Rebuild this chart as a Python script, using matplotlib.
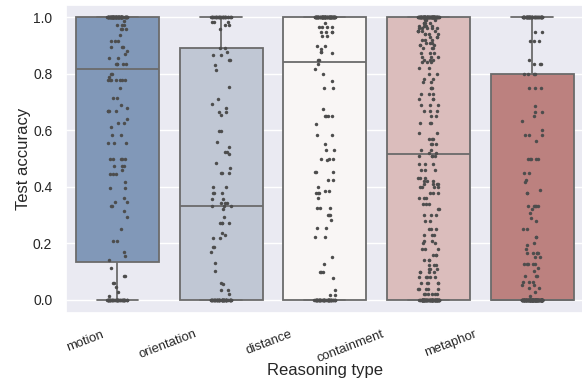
import numpy as np
import pandas as pd
import matplotlib
matplotlib.use("Agg")
import matplotlib.pyplot as plt
import matplotlib.transforms as mtransforms
import seaborn as sns

categories = ["motion", "orientation", "distance", "containment", "metaphor"]

motion_vals = [1.0, 0.986, 0.972, 0.958, 0.936, 0.915, 0.894, 0.88, 0.87, 0.855, 0.833,
               0.8, 0.788, 0.778, 0.75, 0.714, 0.69, 0.68, 0.667, 0.64, 0.625, 0.61, 0.583,
               0.556, 0.5, 0.473, 0.459, 0.445, 0.418, 0.395, 0.36, 0.347, 0.333, 0.314,
               0.293, 0.25, 0.21, 0.17, 0.155, 0.141, 0.113, 0.085, 0.06, 0.046, 0.03, 0.015, 0.0]
motion_counts = [89, 1, 3, 3, 1, 3, 3, 1, 1, 2, 5,
                 2, 1, 7, 1, 2, 1, 1, 4, 1, 2, 1, 2,
                 3, 5, 3, 1, 3, 1, 2, 1, 2, 2, 1,
                 1, 1, 2, 1, 1, 1, 1, 2, 2, 1, 1, 1, 48]

orientation_vals = [1.0, 0.983, 0.972, 0.958, 0.89, 0.876, 0.866, 0.848, 0.83, 0.813, 0.752,
                    0.71, 0.693, 0.68, 0.665, 0.654, 0.598, 0.558, 0.54, 0.524, 0.516, 0.485,
                    0.466, 0.448, 0.4, 0.378, 0.357, 0.343, 0.333, 0.32, 0.294, 0.272, 0.238,
                    0.23, 0.219, 0.188, 0.17, 0.13, 0.104, 0.06, 0.057, 0.035, 0.021, 0.0]
orientation_counts = [32, 3, 2, 1, 2, 1, 2, 2, 1, 1, 1,
                      1, 1, 1, 2, 1, 2, 1, 1, 2, 1, 1,
                      1, 3, 2, 3, 2, 3, 3, 1, 1, 4, 1,
                      1, 2, 2, 1, 1, 1, 1, 1, 2, 1, 56]

distance_vals = [1.0, 0.98, 0.966, 0.948, 0.933, 0.899, 0.886, 0.877, 0.872, 0.848, 0.833,
                 0.816, 0.799, 0.775, 0.751, 0.677, 0.65, 0.624, 0.583, 0.55, 0.532, 0.5,
                 0.495, 0.451, 0.426, 0.4, 0.386, 0.377, 0.359, 0.324, 0.3, 0.283, 0.253,
                 0.222, 0.151, 0.126, 0.1, 0.079, 0.035, 0.018, 0.0]
distance_counts = [89, 1, 4, 4, 2, 2, 1, 2, 1, 2, 1,
                   1, 1, 1, 2, 1, 4, 1, 2, 1, 2, 3,
                   1, 3, 2, 1, 2, 3, 1, 3, 3, 1, 2,
                   2, 1, 1, 3, 1, 1, 2, 55]

containment_vals = [1.0, 0.99, 0.98, 0.97, 0.96, 0.95, 0.94, 0.93, 0.92, 0.91, 0.90, 0.89,
                    0.875, 0.86, 0.85, 0.84, 0.82, 0.80, 0.78, 0.77, 0.75, 0.73, 0.71, 0.69,
                    0.667, 0.65, 0.625, 0.59, 0.57, 0.55, 0.53, 0.52,
                    0.51, 0.48, 0.46, 0.43, 0.42, 0.41, 0.40, 0.38, 0.36, 0.34, 0.32, 0.30,
                    0.28, 0.25, 0.23, 0.21, 0.20, 0.18, 0.16, 0.14, 0.125, 0.11, 0.10, 0.08,
                    0.06, 0.04, 0.02, 0.0]
containment_counts = [94, 3, 4, 4, 5, 5, 4, 3, 3, 3, 3, 3,
                      3, 3, 3, 3, 2, 2, 2, 2, 3, 3, 3, 3,
                      3, 2, 3, 2, 3, 3, 2, 2,
                      4, 3, 3, 3, 3, 4, 4, 3, 3, 3, 2, 3,
                      2, 3, 3, 2, 2, 3, 3, 3, 3, 3, 4, 5,
                      5, 5, 6, 96]

metaphor_vals = [1.0, 0.948, 0.915, 0.848, 0.833, 0.8, 0.75, 0.686, 0.665, 0.65, 0.634, 0.6,
                 0.583, 0.562, 0.5, 0.448, 0.424, 0.416, 0.389, 0.379, 0.333, 0.32, 0.306,
                 0.291, 0.279, 0.251, 0.224, 0.2, 0.194, 0.18, 0.167, 0.153, 0.126, 0.112,
                 0.104, 0.085, 0.065, 0.053, 0.041, 0.029, 0.015, 0.0]
metaphor_counts = [59, 2, 3, 1, 3, 4, 3, 1, 2, 1, 1, 1,
                   3, 1, 5, 2, 1, 1, 1, 2, 5, 1, 1,
                   1, 1, 2, 2, 1, 1, 1, 5, 2, 5, 1,
                   1, 3, 3, 2, 2, 1, 1, 140]

series = {
    "motion": (motion_vals, motion_counts),
    "orientation": (orientation_vals, orientation_counts),
    "distance": (distance_vals, distance_counts),
    "containment": (containment_vals, containment_counts),
    "metaphor": (metaphor_vals, metaphor_counts),
}

rows = []
for cat in categories:
    vals, cnts = series[cat]
    for v, c in zip(vals, cnts):
        rows.extend([(cat, v)] * c)
df = pd.DataFrame(rows, columns=["Reasoning type", "Test accuracy"])

sns.set_theme(style="darkgrid")
plt.rcParams["font.family"] = ["Liberation Sans", "DejaVu Sans"]

np.random.seed(3)
fig = plt.figure(figsize=(5.82, 3.85), dpi=100)
ax = fig.add_axes([65.5 / 582, 1 - 313 / 385, 518.5 / 582, 308 / 385])

sns.boxplot(data=df, x="Reasoning type", y="Test accuracy", order=categories,
            hue="Reasoning type", hue_order=categories, palette="vlag", legend=False,
            width=0.8, whis=[0, 100], linecolor="0.42", linewidth=1.3, ax=ax)
sns.stripplot(data=df, x="Reasoning type", y="Test accuracy", order=categories,
              size=2.5, color=".3", ax=ax)

ax.set_xlim(-0.5, 4.5)
ax.set_ylim(-0.046, 1.043)
ax.set_yticks([0.0, 0.2, 0.4, 0.6, 0.8, 1.0])
ax.tick_params(axis="y", labelsize=10)
ax.tick_params(axis="x", labelsize=9.4, pad=5)
ax.set_xlabel("Reasoning type", fontsize=12)
ax.set_ylabel("Test accuracy", fontsize=12)
ax.xaxis.set_label_coords(0.5, -0.161)
ax.yaxis.set_label_coords(-0.066, 0.5)

label_shift_px = [-12, -23, -31, -43, -54]
ax.set_xticks(range(len(categories)))
ax.set_xticklabels(categories, rotation=21, ha="right")
for lab, dx in zip(ax.get_xticklabels(), label_shift_px):
    lab.set_transform(lab.get_transform() +
                      mtransforms.ScaledTranslation(dx / 100, 0, fig.dpi_scale_trans))

fig.savefig("out.png", dpi=100)
